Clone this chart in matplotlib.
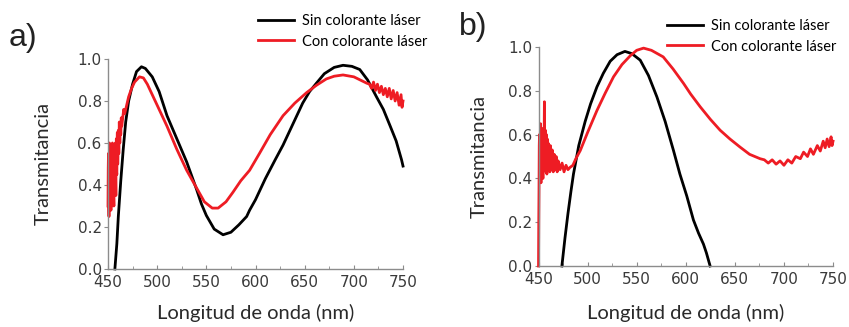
import matplotlib.pyplot as plt
from matplotlib.ticker import FormatStrFormatter, MultipleLocator

# a) spectra
sin_a_x = [457, 459, 460.5, 463, 465.5, 468, 471, 475, 479, 484, 488, 495, 502, 510,
           520, 530, 540, 545, 550, 558, 567, 575, 583, 591, 594, 600, 605, 610, 620, 628,
           638, 648, 655, 662, 670, 680, 689, 698, 706, 714, 723, 730, 737, 743, 748.5, 750]
sin_a_y = [0.0, 0.12, 0.25, 0.42, 0.57, 0.70, 0.80, 0.88, 0.94, 0.963, 0.955, 0.915, 0.845, 0.73,
           0.62, 0.51, 0.38, 0.31, 0.255, 0.19, 0.163, 0.175, 0.21, 0.25, 0.28, 0.33, 0.38, 0.43, 0.52, 0.59,
           0.69, 0.79, 0.845, 0.885, 0.93, 0.96, 0.97, 0.965, 0.95, 0.90, 0.82, 0.76, 0.68, 0.61, 0.52, 0.49]

con_a_x = [450, 450.25, 450.5, 450.75, 451, 451.25, 451.5, 451.75, 452, 452.25, 452.5, 452.75,
           453, 453.25, 453.5, 453.75, 454, 454.25, 454.5, 454.75, 455, 455.25, 455.5, 455.75,
           456, 456.25, 456.5, 456.75, 457, 457.25, 457.5, 457.75, 458, 458.25, 458.5, 458.75,
           459, 459.25, 459.5, 459.75, 460, 460.5, 461, 461.5, 462, 462.5, 463, 463.5, 464, 465, 466,
           467, 469, 471, 474, 477, 482, 486, 490, 495, 500, 510, 520, 530, 536, 542, 548, 556,
           562, 570, 577, 585, 594, 604, 615, 628, 640, 652, 662, 672, 680, 689, 700, 713,
           716, 718, 720, 722, 724, 726, 728, 730, 732, 734, 736, 738, 740, 742, 744, 746, 748, 749, 750]
con_a_y = [0.30, 0.48, 0.55, 0.33, 0.25, 0.50, 0.60, 0.40, 0.32, 0.52, 0.58, 0.36,
           0.28, 0.47, 0.55, 0.30, 0.35, 0.54, 0.60, 0.42, 0.38, 0.57, 0.52, 0.34,
           0.30, 0.50, 0.57, 0.37, 0.40, 0.56, 0.60, 0.43, 0.35, 0.55, 0.62, 0.46,
           0.45, 0.60, 0.65, 0.50, 0.50, 0.66, 0.55, 0.70, 0.60, 0.69, 0.64, 0.72, 0.68, 0.72, 0.76,
           0.74, 0.78, 0.82, 0.86, 0.89, 0.915, 0.91, 0.88, 0.83, 0.78, 0.68, 0.57, 0.47, 0.42, 0.37, 0.32, 0.29,
           0.29, 0.32, 0.365, 0.42, 0.47, 0.55, 0.64, 0.73, 0.79, 0.84, 0.875, 0.905, 0.918, 0.924, 0.915, 0.885,
           0.88, 0.86, 0.89, 0.85, 0.88, 0.84, 0.87, 0.83, 0.86, 0.82, 0.86, 0.81, 0.85, 0.80, 0.84, 0.78, 0.83, 0.77, 0.80]

# b) spectra
sin_b_x = [473.8, 477, 480, 483, 485.6, 491, 497.5, 503, 509.5, 516, 523, 530, 538, 545,
           553.6, 562, 570.6, 579, 587.5, 594, 601, 607.8, 613, 618, 621, 624.8]
sin_b_y = [0.0, 0.13, 0.24, 0.34, 0.42, 0.55, 0.66, 0.74, 0.818, 0.88, 0.935, 0.965, 0.98, 0.97,
           0.94, 0.87, 0.772, 0.66, 0.527, 0.42, 0.32, 0.21, 0.15, 0.10, 0.06, 0.0]

con_b_x = [450, 450.25, 450.5, 450.75, 451, 451.25, 451.5, 451.75, 452, 452.25, 452.5, 452.75,
           453, 453.25, 453.5, 453.75, 454, 454.25, 454.5, 454.75, 455, 455.25, 455.5, 455.75,
           456, 456.25, 456.5, 456.75, 457, 457.25, 457.5, 457.75, 458, 458.25, 458.5, 458.75,
           459, 459.5, 460, 460.5, 461, 461.5, 462, 462.5, 463, 463.5, 464, 465, 466, 467, 468, 469,
           470, 472, 474, 476, 478, 480, 482, 485, 488, 492.5, 500, 509.5, 518, 526.4, 535, 543.4,
           550, 557, 565, 577, 587, 597.7, 605, 614.7, 625, 635, 645, 655.3, 665, 675.7,
           680, 684, 688, 692, 696, 700, 704, 708, 712, 716.7, 720, 724, 727, 730, 734, 737,
           740, 742, 744, 746, 748, 749, 750]
con_b_y = [0.0, 0.20, 0.35, 0.55, 0.60, 0.45, 0.40, 0.58, 0.65, 0.50, 0.38, 0.55,
           0.62, 0.47, 0.42, 0.58, 0.60, 0.46, 0.40, 0.56, 0.63, 0.50, 0.44, 0.60,
           0.75, 0.55, 0.45, 0.57, 0.62, 0.48, 0.43, 0.58, 0.60, 0.47, 0.42, 0.55,
           0.58, 0.44, 0.56, 0.45, 0.54, 0.43, 0.55, 0.45, 0.52, 0.44, 0.53, 0.43, 0.51, 0.44, 0.50, 0.43,
           0.48, 0.44, 0.47, 0.43, 0.46, 0.44, 0.45, 0.46, 0.49, 0.527, 0.61, 0.71, 0.79, 0.864, 0.92, 0.96,
           0.985, 0.995, 0.985, 0.955, 0.90, 0.834, 0.785, 0.727, 0.67, 0.62, 0.58, 0.543, 0.51, 0.49,
           0.485, 0.47, 0.485, 0.465, 0.48, 0.46, 0.485, 0.47, 0.50, 0.49, 0.52, 0.50, 0.535, 0.51, 0.55, 0.525,
           0.57, 0.54, 0.58, 0.545, 0.59, 0.55, 0.57]

xticks = [450, 500, 550, 600, 650, 700, 750]
labels = ['Sin colorante láser', 'Con colorante láser']
red = '#ee1c24'

fig = plt.figure(figsize=(8.49, 3.27), dpi=100)
ax_a = fig.add_axes([0.1272, 0.1774, 0.3475, 0.6422])
ax_b = fig.add_axes([0.6343, 0.1865, 0.3469, 0.6697])

panels = [
    (ax_a, sin_a_x, sin_a_y, con_a_x, con_a_y, 'a)', (9 / 849, 1 - 38 / 327),
     (258 / 849, 1 - 14 / 327), (-0.22, -0.21)),
    (ax_b, sin_b_x, sin_b_y, con_b_x, con_b_y, 'b)', (459 / 849, 1 - 27 / 327),
     (667 / 849, 1 - 19 / 327), (-0.2, -0.215)),
]

for ax, sx, sy, cx, cy, tag, tag_pos, leg_pos, lab_pos in panels:
    ax.plot(sx, sy, color='black', lw=2.0, label=labels[0], clip_on=False)
    ax.plot(cx, cy, color=red, lw=2.0, label=labels[1], clip_on=False)
    ax.set_xlim(450, 750)
    ax.set_ylim(0, 1.0)
    ax.set_xticks(xticks)
    ax.yaxis.set_major_locator(MultipleLocator(0.2))
    ax.yaxis.set_major_formatter(FormatStrFormatter('%.1f'))
    ax.xaxis.set_minor_locator(MultipleLocator(25))
    for s in ['top', 'right']:
        ax.spines[s].set_visible(False)
    for s in ['left', 'bottom']:
        ax.spines[s].set_color('#8c8c8c')
        ax.spines[s].set_linewidth(1.0)
    ax.tick_params(axis='x', direction='in', length=3, color='#8c8c8c', pad=4,
                   labelsize=11, labelcolor='#3a3a3a')
    ax.tick_params(axis='x', which='minor', direction='in', length=2, color='#8c8c8c')
    ax.tick_params(axis='y', direction='out', length=3, color='#8c8c8c', pad=1.5,
                   labelsize=11, labelcolor='#3a3a3a')
    for t in ax.get_xticklabels() + ax.get_yticklabels():
        t.set_fontfamily('DejaVu Sans')
    ax.set_xlabel('Longitud de onda (nm)', fontsize=14.5, family='Lato', color='#2a2a2a')
    ax.set_ylabel('Transmitancia', fontsize=14.5, family='Lato', color='#2a2a2a')
    ax.yaxis.set_label_coords(lab_pos[0], 0.5)
    ax.xaxis.set_label_coords(0.5, lab_pos[1])
    ax.xaxis.label.set_va('center')
    ax.yaxis.label.set_va('center')
    fig.text(tag_pos[0], tag_pos[1], tag, fontsize=23, family='Liberation Sans',
             va='center', ha='left', color='#222222')
    ax.legend(loc='upper left', bbox_to_anchor=leg_pos, bbox_transform=fig.transFigure,
              frameon=False, prop={'family': 'Lato', 'size': 10.5}, borderpad=0, borderaxespad=0,
              handlelength=2.5, handletextpad=0.5, labelspacing=0.45)

plt.savefig('out.png', dpi=100)
